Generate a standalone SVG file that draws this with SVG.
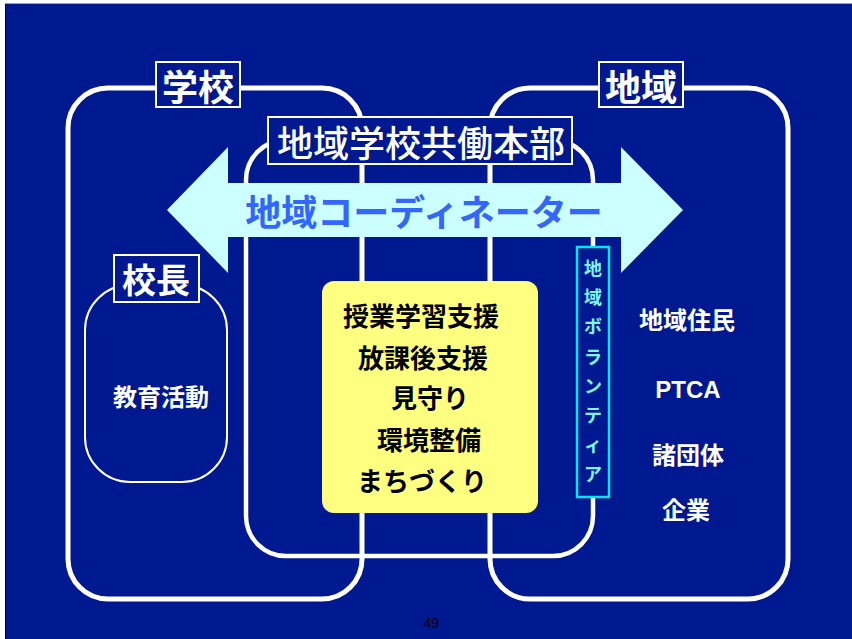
<svg xmlns="http://www.w3.org/2000/svg" width="852" height="639" viewBox="0 0 852 639">
<style>
.jp{font-family:"Noto Sans CJK JP","Noto Sans CJK SC",sans-serif;}
.lbl{fill:#001890;stroke:#ffffff;stroke-width:2;}
.ltxt{fill:#ffffff;font-size:36px;text-anchor:middle;dominant-baseline:central;}
.big{fill:none;stroke:#ffffff;stroke-width:5;}
.wt{fill:#ffffff;font-size:24px;font-weight:bold;text-anchor:middle;dominant-baseline:central;}
.bt{fill:#000000;font-size:26px;font-weight:bold;text-anchor:middle;dominant-baseline:central;}
.vt{fill:#7ff5f5;font-size:18px;font-weight:bold;text-anchor:middle;dominant-baseline:central;}
</style>
<rect x="0" y="0" width="852" height="639" fill="#ffffff"/>
<rect x="5" y="3" width="847" height="636" fill="#000000"/>
<rect x="5" y="3" width="847" height="1" fill="#a0a0a0"/>
<rect x="6" y="4" width="846" height="635" fill="#001890"/>

<g id="school">
  <rect class="big" x="68" y="88" width="294" height="511" rx="40"/>
</g>
<g id="region">
  <rect class="big" x="490" y="88" width="298" height="511" rx="40"/>
</g>
<g id="honbu">
  <rect fill="none" stroke="#ffffff" stroke-width="4.5" x="246" y="140" width="347" height="416" rx="40"/>
</g>
<g id="school-label">
  <rect class="lbl" x="156" y="62" width="84" height="45"/>
  <text class="jp ltxt" x="198" y="85" font-weight="bold">学校</text>
</g>
<g id="region-label">
  <rect class="lbl" x="599" y="62" width="84" height="45"/>
  <text class="jp ltxt" x="641" y="85" font-weight="bold">地域</text>
</g>
<g id="honbu-label">
  <rect class="lbl" x="268" y="117" width="304" height="47"/>
  <text class="jp ltxt" x="421" y="141" style="font-weight:500">地域学校共働本部</text>
</g>

<g id="coordinator">
  <polygon fill="#ccffff" points="167,210 228,147 228,183 621,183 621,147 683,210 621,273 621,237 228,237 228,273"/>
  <text class="jp" x="424" y="210" fill="#3366ff" font-size="36" font-weight="bold" text-anchor="middle" dominant-baseline="central">地域コーディネーター</text>
</g>

<g id="principal">
  <rect fill="none" stroke="#ffffff" stroke-width="2" x="85" y="285" width="142" height="197" rx="45"/>
  <rect class="lbl" x="114" y="255" width="85" height="47"/>
  <text class="jp ltxt" x="156" y="278" style="font-size:34px" font-weight="bold">校長</text>
  <text class="jp wt" x="161" y="395">教育活動</text>
</g>

<g id="support">
  <rect fill="#ffff80" x="322" y="281" width="216" height="232" rx="12"/>
  <text class="jp bt" x="421" y="314">授業学習支援</text>
  <text class="jp bt" x="423" y="356">放課後支援</text>
  <text class="jp bt" x="430" y="396">見守り</text>
  <text class="jp bt" x="429" y="438">環境整備</text>
  <text class="jp bt" x="422" y="479">まちづくり</text>
</g>

<g id="volunteer">
  <rect fill="#001890" stroke="#00e5ee" stroke-width="2.5" x="577" y="247" width="32" height="250"/>
  <text class="jp vt" x="593" y="267">地</text>
  <text class="jp vt" x="593" y="296">域</text>
  <text class="jp vt" x="593" y="325">ボ</text>
  <text class="jp vt" x="593" y="356">ラ</text>
  <text class="jp vt" x="593" y="385">ン</text>
  <text class="jp vt" x="593" y="414">テ</text>
  <text class="jp vt" x="593" y="444">ィ</text>
  <text class="jp vt" x="593" y="473">ア</text>
</g>

<g id="members">
  <text class="jp wt" x="687" y="318">地域住民</text>
  <text x="688" y="398" fill="#ffffff" font-family="'Liberation Sans',Arial,sans-serif" font-size="24" font-weight="bold" text-anchor="middle">PTCA</text>
  <text class="jp wt" x="688" y="453">諸団体</text>
  <text class="jp wt" x="686" y="508">企業</text>
</g>

<g id="connectors"></g>

<text x="431" y="628" fill="#000000" font-family="'Liberation Sans',Arial,sans-serif" font-size="14" text-anchor="middle">49</text>
</svg>
